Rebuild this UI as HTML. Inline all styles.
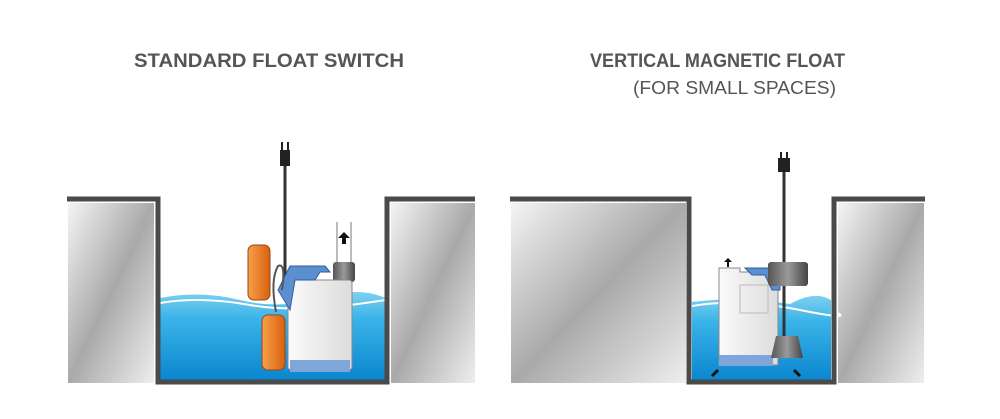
<!DOCTYPE html><html><head><style>body{margin:0;background:#fff}svg{display:block}</style></head><body>
<svg width="1000" height="419" viewBox="0 0 1000 419" xmlns="http://www.w3.org/2000/svg">
<defs>
<linearGradient id="g" x1="0" y1="0" x2="1" y2="1"><stop offset="0" stop-color="#f4f4f4"/><stop offset=".5" stop-color="#a9a9a9"/><stop offset="1" stop-color="#eeeeee"/></linearGradient>
<linearGradient id="w" x1="0" y1="0" x2="0" y2="1"><stop offset="0" stop-color="#7fd0f0"/><stop offset=".3" stop-color="#3ab4e8"/><stop offset="1" stop-color="#0a86d0"/></linearGradient>
<linearGradient id="o" x1="0" y1="0" x2="1" y2="0"><stop offset="0" stop-color="#f7a04a"/><stop offset="1" stop-color="#d9600e"/></linearGradient>
<linearGradient id="b" x1="0" y1="0" x2="1" y2="0"><stop offset="0" stop-color="#fafafa"/><stop offset="1" stop-color="#dcdcdc"/></linearGradient>
<linearGradient id="k" x1="0" y1="0" x2="1" y2="0"><stop offset="0" stop-color="#555"/><stop offset=".5" stop-color="#9a9a9a"/><stop offset="1" stop-color="#444"/></linearGradient>
</defs>
<g font-family="Liberation Sans, sans-serif" fill="#555">
<text x="134" y="67" font-size="19" font-weight="bold" textLength="270" lengthAdjust="spacingAndGlyphs">STANDARD FLOAT SWITCH</text>
<text x="590" y="67" font-size="19" font-weight="bold" textLength="255" lengthAdjust="spacingAndGlyphs">VERTICAL MAGNETIC FLOAT</text>
<text x="633" y="94" font-size="18" textLength="203" lengthAdjust="spacingAndGlyphs">(FOR SMALL SPACES)</text>
</g>
<!-- left pit -->
<rect x="68" y="203" width="86" height="180" fill="url(#g)"/>
<rect x="391" y="203" width="84" height="180" fill="url(#g)"/>
<path d="M160 298 Q200 290 240 300 T320 298 T385 298 V380 H160Z" fill="url(#w)"/>
<path d="M160 303 Q200 296 250 305 T385 300" stroke="#fff" stroke-width="2" fill="none"/>
<path d="M67 199 H158 V382 H387 V199 H475" stroke="#4a4a4a" stroke-width="5" fill="none"/>
<!-- left pump -->
<path d="M285 165 V300" stroke="#333" stroke-width="3"/>
<rect x="280" y="150" width="10" height="16" fill="#222"/><path d="M282 142v8M288 142v8" stroke="#222" stroke-width="2"/>
<path d="M337 222V262M351 222V262" stroke="#777" stroke-width="1"/>
<path d="M344 232l-6 6h4v6h4v-6h4z" fill="#111"/>
<rect x="333" y="262" width="22" height="20" rx="3" fill="url(#k)"/>
<rect x="288" y="280" width="64" height="90" rx="3" fill="url(#b)" stroke="#888"/>
<rect x="290" y="360" width="60" height="12" fill="#7fa6d8"/>
<path d="M278 290 L290 266 H325 L330 272 L320 272 L315 280 H295 L290 310Z" fill="#5b8fcf" stroke="#2f5f9f"/>
<rect x="248" y="245" width="22" height="55" rx="6" fill="url(#o)" stroke="#9a4510"/>
<rect x="262" y="315" width="23" height="55" rx="6" fill="url(#o)" stroke="#9a4510"/>
<path d="M276 312 Q270 280 278 266 Q286 262 282 290" stroke="#555" stroke-width="2" fill="none"/>
<!-- right pit -->
<rect x="511" y="203" width="175" height="180" fill="url(#g)"/>
<rect x="838" y="203" width="86" height="180" fill="url(#g)"/>
<path d="M692 302 Q740 296 790 304 Q815 290 831 300 V380 H692Z" fill="url(#w)"/>
<path d="M692 306 Q740 298 800 310 T831 310" stroke="#fff" stroke-width="2" fill="none"/>
<path d="M510 199 H689 V382 H834 V199 H925" stroke="#4a4a4a" stroke-width="5" fill="none"/>
<!-- right pump -->
<path d="M784 170 V340" stroke="#333" stroke-width="3"/>
<rect x="778" y="158" width="12" height="14" fill="#222"/><path d="M781 152v6M787 152v6" stroke="#222" stroke-width="2"/>
<path d="M719 268 H740 V272 H778 V365 H719Z" fill="url(#b)" stroke="#888"/>
<rect x="719" y="355" width="54" height="11" fill="#7fa6d8"/>
<rect x="740" y="285" width="28" height="28" fill="none" stroke="#bbb"/>
<path d="M745 268 H780 V290 L772 290 L765 275 H752Z" fill="#5b8fcf" stroke="#2f5f9f"/>
<path d="M728 258l-4 4h3v5h2v-5h3z" fill="#111"/>
<rect x="768" y="262" width="40" height="24" rx="3" fill="url(#k)"/>
<path d="M776 336 H798 L803 358 H771Z" fill="url(#k)"/>
<path d="M712 376l6-6M800 376l-6-6" stroke="#111" stroke-width="3"/>
</svg>
</body></html>
